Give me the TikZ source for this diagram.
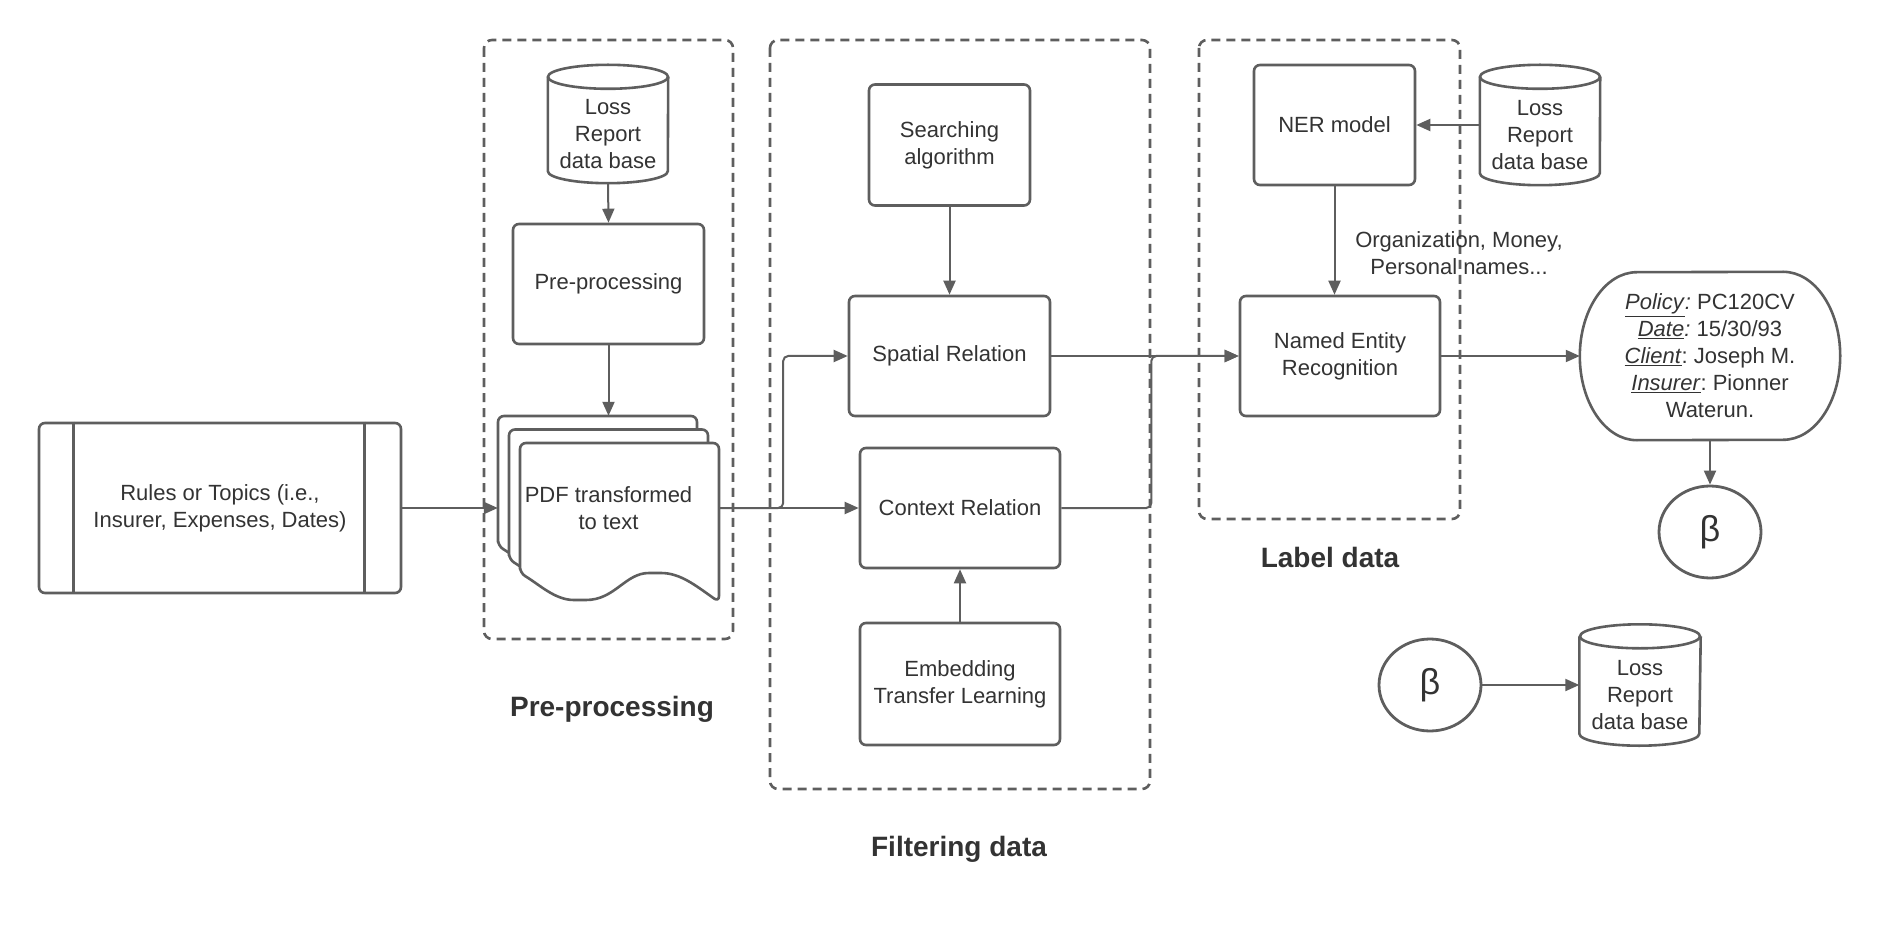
\documentclass[tikz,border=0pt]{standalone}
\usepackage{fontspec}
\setmainfont{Liberation Sans}
\usetikzlibrary{arrows.meta,shapes.geometric,calc}
\definecolor{ln}{HTML}{5E5E5E}
\definecolor{tx}{HTML}{333333}
\newcommand{\drawcyl}[1]{%
  \draw[ln, line width=2.6pt] ($(#1.north west)+(0,12)$) -- ($(#1.south west)+(0,-12)$)
    arc[start angle=180, end angle=0, x radius=60, y radius=12]
    -- ($(#1.north east)+(0,12)$);
  \draw[ln, line width=2.6pt] ($(#1.north)+(0,12)$) ellipse[x radius=60, y radius=12];
}
\begin{document}
\begin{tikzpicture}[x=1pt,y=-1pt,
  every node/.style={text=tx, font=\fontsize{22}{27}\selectfont, align=center, inner sep=0pt},
  box/.style={draw=ln, line width=2.6pt, rounded corners=6pt},
  ghost/.style={draw=none},
  grp/.style={draw=ln, line width=2.6pt, dash pattern=on 9pt off 6pt, rounded corners=8pt},
  conn/.style={draw=ln, line width=2pt, -{Triangle[length=14pt,width=12pt]}},
  title/.style={font=\fontsize{28}{32}\selectfont\bfseries},
  beta/.style={ellipse, draw=ln, line width=2.8pt, minimum width=102pt, minimum height=92pt, font=\fontsize{36}{40}\selectfont}
]
\fill[white] (0,0) rectangle (1880,925);
\useasboundingbox (0,0) rectangle (1880,925);

% group containers
\draw[grp] (484,40) rectangle (733,639);
\draw[grp] (770,40) rectangle (1150,789);
\draw[grp] (1199,40) rectangle (1460,519);

% group titles
\node[title] (tpre) at (612,709) {Pre-processing};
\node[title] (tfil) at (959,849) {Filtering data};
\node[title] (tlab) at (1330,557) {Label data};

% rules box
\node[box, minimum width=362pt, minimum height=170pt] (rules) at (220,508) {Rules or Topics (i.e.,\\Insurer, Expenses, Dates)};
\draw[ln, line width=2.6pt] ($(rules.north west)+(36,0)$) -- ($(rules.south west)+(36,0)$);
\draw[ln, line width=2.6pt] ($(rules.north east)+(-38,0)$) -- ($(rules.south east)+(-38,0)$);

% pre-processing column
\node[ghost, minimum width=120pt, minimum height=118pt] (cyl1) at (608,124) {};
\drawcyl{cyl1}
\node (cyl1t) at ($(cyl1.center)+(0,10)$) {Loss\\Report\\data base};
\node[box, minimum width=191pt, minimum height=120pt] (pproc) at (608.5,284) {Pre-processing};

\foreach \dx/\dy in {-22/-27, -11/-13.5, 0/0} {
  \begin{scope}[shift={(\dx,\dy)}]
    \draw[ln, line width=2.6pt, fill=white, rounded corners=6pt]
      (520,573) -- (520,443) -- (719,443) -- (719,602)
      .. controls (695,585) and (680,573) .. (655,573)
      .. controls (625,573) and (615,600) .. (580,600)
      .. controls (555,600) and (540,585) .. (520,573) -- cycle;
  \end{scope}
}
\node[ghost, minimum width=221pt, minimum height=184pt] (pdf) at (608.5,508) {PDF transformed\\to text};

% filtering column
\node[box, minimum width=161pt, minimum height=121pt] (search) at (949.5,145) {Searching\\algorithm};
\node[box, minimum width=201pt, minimum height=120pt] (spatial) at (949.5,356) {Spatial Relation};
\node[box, minimum width=200pt, minimum height=120pt] (context) at (960,508) {Context Relation};
\node[box, minimum width=200pt, minimum height=122pt] (embed) at (960,684) {Embedding\\Transfer Learning};

% label column
\node[box, minimum width=161pt, minimum height=120pt] (nermodel) at (1334.5,125) {NER model};
\node[ghost, minimum width=120pt, minimum height=120pt] (cyl2) at (1540,125) {};
\drawcyl{cyl2}
\node (cyl2t) at ($(cyl2.center)+(0,10)$) {Loss\\Report\\data base};
\node[box, minimum width=200pt, minimum height=120pt] (ner) at (1340,356) {Named Entity\\Recognition};
\node (orgtext) at (1459,253) {Organization, Money,\\Personal names...};

% result
\node[ghost, minimum width=260pt, minimum height=168pt] (res) at (1710,356)
  {\underline{\textit{Policy}}\textit{:}~PC120CV\\
   \underline{\textit{Date}}\textit{:}~15/30/93\\
   \underline{\textit{Client}}:~Joseph M.\\
   \underline{\textit{Insurer}}:~Pionner\\
   Waterun.};
\draw[ln, line width=2.6pt] ($(res.north east)+(-57,0)$)
  arc[start angle=270, end angle=450, x radius=57, y radius=84]
  -- ($(res.south west)+(57,0)$)
  arc[start angle=90, end angle=270, x radius=57, y radius=84] -- cycle;

\node[beta] (beta1) at (1710,532) {β};
\node[beta] (beta2) at (1430,685) {β};
\node[ghost, minimum width=121pt, minimum height=121pt] (cyl3) at (1640,685) {};
\drawcyl{cyl3}
\node (cyl3t) at ($(cyl3.center)+(0,10)$) {Loss\\Report\\data base};

% connectors
\draw[conn] (cyl1.south) -- (pproc.north);
\draw[conn] (pproc.south) -- (pdf.north);
\draw[conn] (rules.east) -- (pdf.west);
\draw[conn] (pdf.east) -- (context.west);
\draw[conn, rounded corners=5pt] (pdf.east) -- ++(64,0) |- (spatial.west);
\draw[conn] (search.south) -- (spatial.north);
\draw[conn] (embed.north) -- (context.south);
\draw[conn] (spatial.east) -- (ner.west);
\draw[conn, rounded corners=5pt] (context.east) -- ++(90,0) |- (ner.west);
\draw[conn] (cyl2.west) -- (nermodel.east);
\draw[conn] (nermodel.south) -- (nermodel.south |- ner.north);
\draw[conn] (ner.east) -- (res.west);
\draw[conn] (res.south) -- (beta1.north);
\draw[conn] (beta2.east) -- (cyl3.west);
\end{tikzpicture}
\end{document}
